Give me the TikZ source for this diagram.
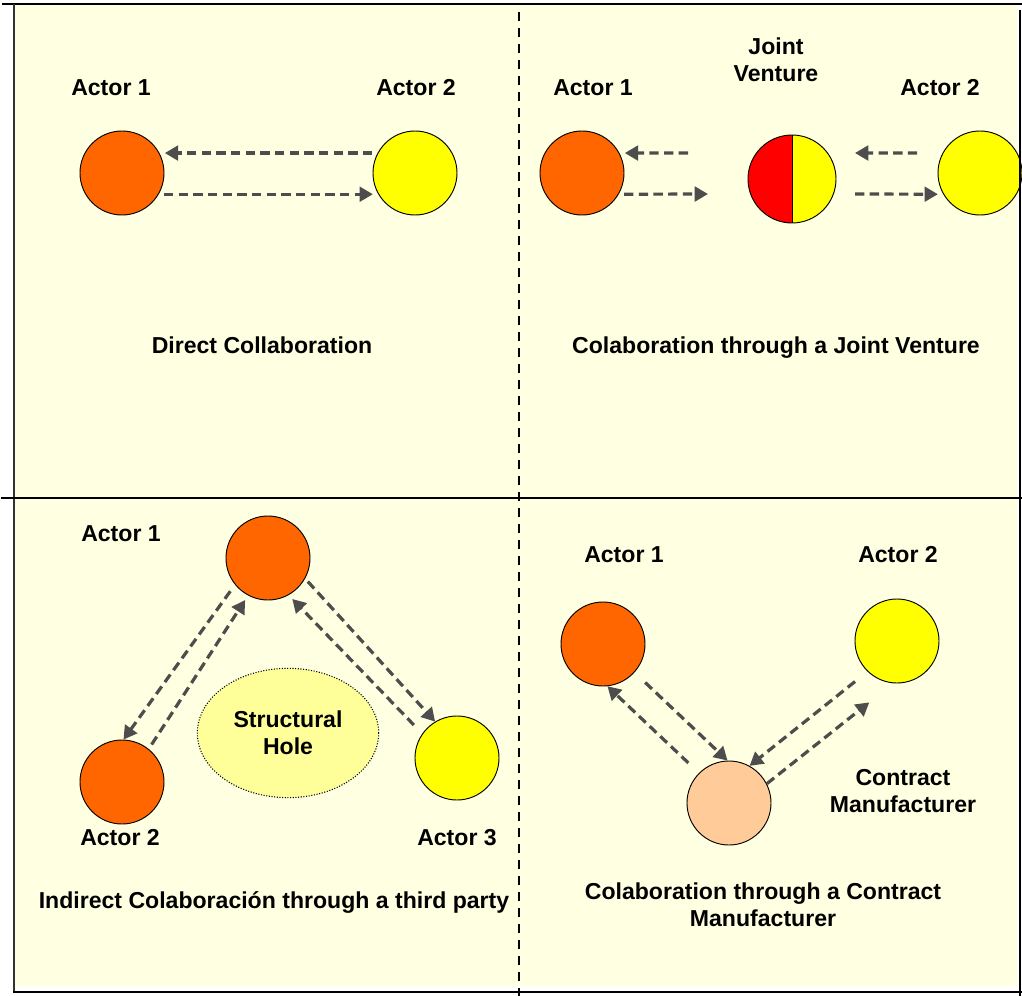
\documentclass[tikz,border=0pt]{standalone}
\usepackage{fontspec}
\setmainfont{Liberation Sans}
\usetikzlibrary{arrows.meta,shapes.geometric}
\definecolor{paper}{HTML}{FFFFE1}
\definecolor{actorange}{HTML}{FF6600}
\definecolor{actyellow}{HTML}{FFFF00}
\definecolor{jvred}{HTML}{FF0000}
\definecolor{peach}{HTML}{FFCC99}
\definecolor{holefill}{HTML}{FFFF99}
\definecolor{linkgray}{HTML}{4D4D4D}
\tikzset{actor/.style={circle,draw=black,line width=.7pt,minimum size=63pt,inner sep=0pt},orangeactor/.style={actor,fill=actorange},yellowactor/.style={actor,fill=actyellow},lab/.style={font=\fontsize{17.3}{20}\selectfont\bfseries,align=center,inner sep=0pt},hole/.style={lab,ellipse,draw=black,line width=.8pt,dash pattern=on .8pt off 1.2pt,fill=holefill,minimum width=136pt,minimum height=97pt},flow/.style={-{Triangle[length=10pt,width=11pt]},line width=2.4pt,draw=linkgray,dash pattern=on 7pt off 4pt},frame/.style={line width=1.6pt,draw=black}}

\begin{document}
\begin{tikzpicture}[x=0.75pt,y=-0.75pt]
\useasboundingbox (0,0) rectangle (1022,996);
\fill[paper] (14,4) rectangle (1017,986);
\node[orangeactor] (l1) at (122,173) {};
\node[yellowactor] (l2) at (415,173) {};
\node[lab] (l1lab) at (111,88) {Actor 1};
\node[lab] (l2lab) at (416,88) {Actor 2};
\node[lab] (lcap) at (262,345) {Direct Collaboration};
\draw[flow,shorten <=4pt,shorten >=4pt] (l2.152) -- (l1.28);
\draw[flow,shorten <=4pt,shorten >=4pt] (l1.-30) -- (l2.210);
\node[orangeactor] (r1) at (582,173) {};
\node[actor,minimum size=66pt,fill=actyellow,path picture={\fill[jvred] (path picture bounding box.north west) rectangle (path picture bounding box.south);}] (jv) at (792,179) {};
\draw[line width=.7pt] (jv.north) -- (jv.south);
\node[yellowactor] (r2) at (980,173) {};
\node[lab] (r1lab) at (593,88) {Actor 1};
\node[lab] (jvlab) at (776,60) {Joint\\Venture};
\node[lab] (r2lab) at (940,88) {Actor 2};
\node[lab] (rcap) at (776,348) {Colaboration through a Joint Venture};
\coordinate (jvw1) at (688,153);
\coordinate (jvw2) at (708,194);
\coordinate (jve1) at (855,153);
\coordinate (jve2) at (855,194);
\draw[flow,shorten >=4pt] (jvw1) -- (r1.28);
\draw[flow,shorten <=4pt] (r1.-30) -- (jvw2);
\draw[flow,shorten <=19pt] (r2.152) -- (jve1);
\draw[flow,shorten >=4pt] (jve2) -- (r2.210);
\node[orangeactor] (b1) at (268,558) {};
\node[orangeactor] (b2) at (122,782) {};
\node[yellowactor] (b3) at (457,758) {};
\node[hole] (hole) at (288,733) {Structural\\Hole};
\node[lab] (b1lab) at (121,534) {Actor 1};
\node[lab] (b2lab) at (120,838) {Actor 2};
\node[lab] (b3lab) at (457,838) {Actor 3};
\node[lab] (bcap) at (274,902) {Indirect Colaboración through a third party};
\draw[flow,shorten <=6pt] (b1.219) -- (b2.88);
\draw[flow,shorten <=4pt,shorten >=4pt] (b2.51) -- (b1.242);
\draw[flow,shorten <=3pt] (b1.-29) -- (b3.121);
\draw[flow,shorten <=9pt,shorten >=4pt] (b3.145) -- (b1.-61);
\node[orangeactor] (c1) at (603,644) {};
\node[yellowactor] (c2) at (897,641) {};
\node[actor,fill=peach] (cm) at (729,803) {};
\node[lab] (c1lab) at (624,555) {Actor 1};
\node[lab] (c2lab) at (898,555) {Actor 2};
\node[lab] (cmlab) at (903,791) {Contract\\Manufacturer};
\node[lab] (ccap) at (763,905) {Colaboration through a Contract\\Manufacturer};
\draw[flow,shorten <=11pt] (c1.-42) -- (cm.92);
\draw[flow,shorten <=11pt] (cm.135) -- (c1.-84);
\draw[flow,shorten <=12pt] (c2.226) -- (cm.61);
\draw[flow,shorten >=23pt] (cm.27) -- (c2.-95);
\draw[frame] (2,4) -- (1022,4);
\draw[frame,draw=black!80] (14,4) -- (14,993);
\draw[frame] (13,992) -- (1022,992);
\draw[frame] (1020,10) -- (1020,996);
\draw[frame] (1,498) -- (1022,498);
\draw[frame,line width=1.5pt,dash pattern=on 7pt off 5pt] (519,12) -- (519,996);
\end{tikzpicture}
\end{document}
